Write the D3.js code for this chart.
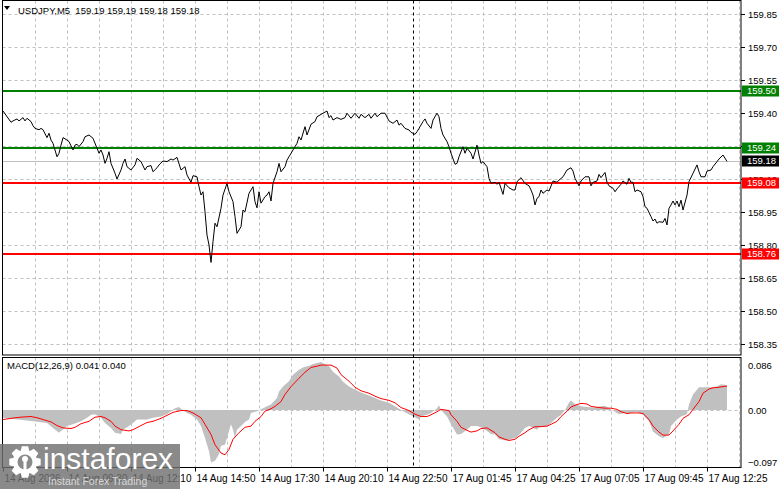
<!DOCTYPE html>
<html>
<head>
<meta charset="utf-8">
<script src="https://cdn.jsdelivr.net/npm/d3@7"></script>
<style>
  body { margin: 0; background: #fff; }
  svg { display: block; font-family: "Liberation Sans", Arial, sans-serif; }
</style>
</head>
<body>
<svg id="chart" width="781" height="489"></svg>
<script>
// ---- data ----
const symbolTitle = "USDJPY,M5  159.19 159.19 159.18 159.18";
const macdTitle = "MACD(12,26,9) 0.041 0.040";

const timeLabels = ["14 Aug 2026", "14 Aug 09:30", "14 Aug 12:10", "14 Aug 14:50", "14 Aug 17:30", "14 Aug 20:10",
  "14 Aug 22:50", "17 Aug 01:45", "17 Aug 04:25", "17 Aug 07:05", "17 Aug 09:45", "17 Aug 12:25"];
const timeTickBars = [0, 32, 64, 96, 128, 160, 192, 224, 256, 288, 320, 352];

const priceTicks = [159.85, 159.70, 159.55, 159.40, 159.25, 159.10, 158.95, 158.80, 158.65, 158.50, 158.35];
const levels = [159.50, 159.24, 159.08, 158.76];
const lastPrice = 159.18;
const separatorBar = 205;
const macdTicks = [0.086, 0.00, -0.097];

// [bar index (M5), close]
const closes = [[0,159.409],[4,159.358],[5,159.364],[7,159.373],[8,159.364],[10,159.379],[11,159.364],[12,159.376],[14,159.361],[15,159.342],[16,159.330],[18,159.324],[19,159.330],[20,159.324],[22,159.288],[23,159.308],[24,159.277],[25,159.262],[27,159.201],[28,159.217],[29,159.254],[30,159.288],[32,159.277],[33,159.270],[35,159.232],[36,159.254],[37,159.258],[38,159.247],[40,159.270],[41,159.292],[43,159.300],[45,159.285],[47,159.240],[48,159.217],[49,159.232],[50,159.209],[51,159.171],[52,159.194],[53,159.224],[54,159.171],[56,159.126],[57,159.100],[59,159.141],[60,159.171],[61,159.191],[62,159.156],[64,159.141],[66,159.164],[67,159.194],[69,159.179],[71,159.141],[72,159.156],[74,159.161],[75,159.133],[77,159.151],[78,159.164],[80,159.182],[82,159.179],[84,159.191],[85,159.186],[87,159.198],[89,159.141],[91,159.156],[92,159.118],[94,159.085],[95,159.115],[97,159.110],[98,159.065],[99,159.027],[100,159.042],[101,158.951],[102,158.845],[103,158.800],[104,158.721],[105,158.815],[106,158.899],[107,158.883],[109,158.967],[110,159.027],[112,159.080],[113,159.042],[115,158.997],[116,158.929],[117,158.853],[119,158.883],[120,158.959],[121,158.951],[123,159.035],[124,159.050],[125,159.065],[126,158.997],[127,158.969],[128,159.042],[129,158.990],[131,159.020],[132,159.027],[133,159.042],[134,159.000],[135,159.080],[137,159.133],[138,159.171],[139,159.133],[141,159.156],[142,159.186],[143,159.201],[145,159.232],[147,159.262],[148,159.292],[149,159.277],[151,159.338],[152,159.300],[154,159.349],[156,159.361],[157,159.383],[160,159.399],[162,159.409],[163,159.379],[164,159.388],[165,159.368],[167,159.379],[169,159.371],[171,159.379],[172,159.399],[174,159.376],[176,159.399],[178,159.376],[179,159.394],[181,159.379],[183,159.394],[184,159.376],[186,159.399],[187,159.383],[189,159.399],[191,159.399],[193,159.364],[195,159.353],[197,159.368],[198,159.345],[199,159.353],[201,159.330],[203,159.323],[204,159.312],[206,159.303],[207,159.315],[208,159.330],[210,159.361],[211,159.373],[212,159.353],[214,159.330],[215,159.368],[217,159.399],[218,159.383],[219,159.330],[220,159.300],[222,159.270],[223,159.247],[224,159.217],[226,159.167],[227,159.171],[228,159.201],[230,159.247],[231,159.217],[232,159.240],[234,159.217],[235,159.191],[237,159.254],[238,159.209],[239,159.171],[240,159.179],[242,159.156],[243,159.103],[244,159.080],[246,159.085],[247,159.076],[248,159.085],[250,159.030],[251,159.080],[253,159.060],[255,159.050],[256,159.050],[257,159.088],[259,159.106],[261,159.080],[263,159.069],[264,159.050],[265,159.027],[266,158.982],[267,159.012],[268,159.020],[269,159.050],[270,159.035],[272,159.050],[273,159.045],[275,159.091],[277,159.085],[278,159.095],[280,159.110],[282,159.141],[284,159.151],[285,159.136],[286,159.103],[288,159.069],[289,159.091],[291,159.110],[293,159.110],[294,159.069],[295,159.085],[297,159.091],[298,159.121],[299,159.106],[301,159.130],[302,159.085],[303,159.069],[305,159.058],[306,159.042],[307,159.055],[309,159.076],[310,159.091],[312,159.076],[313,159.103],[314,159.085],[315,159.085],[316,159.042],[317,159.050],[319,159.042],[320,159.020],[321,158.974],[322,158.967],[324,158.929],[325,158.909],[326,158.918],[327,158.899],[328,158.906],[330,158.903],[331,158.921],[332,158.891],[333,158.967],[334,158.982],[335,159.000],[336,158.982],[337,159.000],[338,158.974],[339,159.004],[340,158.959],[342,159.027],[343,159.088],[345,159.126],[347,159.164],[348,159.133],[349,159.110],[351,159.110],[352,159.136],[354,159.141],[355,159.156],[357,159.179],[358,159.191],[360,159.209],[362,159.180]];

// [bar index, MACD main] (grey histogram)
const macdMain = [[0,-0.013],[15,-0.019],[22,-0.022],[25,-0.030],[28,-0.038],[29,-0.035],[32,-0.027],[35,-0.024],[39,-0.019],[42,-0.013],[44,-0.008],[46,-0.007],[49,-0.013],[51,-0.022],[54,-0.030],[56,-0.038],[59,-0.040],[60,-0.033],[63,-0.027],[65,-0.022],[67,-0.016],[72,-0.016],[75,-0.013],[79,-0.011],[82,-0.007],[84,-0.002],[86,0.003],[88,0.005],[89,0.002],[92,-0.005],[94,-0.008],[97,-0.016],[99,-0.027],[101,-0.047],[103,-0.069],[104,-0.088],[106,-0.085],[108,-0.074],[109,-0.060],[111,-0.058],[113,-0.035],[114,-0.024],[115,-0.033],[116,-0.047],[117,-0.033],[119,-0.027],[121,-0.020],[123,-0.016],[124,-0.005],[127,-0.002],[130,0.003],[132,0.006],[134,0.009],[137,0.020],[138,0.031],[140,0.039],[143,0.048],[145,0.059],[148,0.067],[150,0.071],[153,0.074],[155,0.077],[159,0.080],[160,0.078],[163,0.073],[165,0.064],[168,0.056],[170,0.047],[173,0.039],[176,0.034],[179,0.029],[183,0.024],[186,0.020],[189,0.016],[193,0.012],[196,0.006],[199,0.000],[203,-0.007],[206,-0.012],[208,-0.016],[209,-0.011],[212,-0.008],[214,-0.005],[217,0.003],[218,0.008],[219,0.000],[222,-0.011],[224,-0.024],[227,-0.041],[229,-0.040],[232,-0.033],[234,-0.027],[237,-0.027],[239,-0.029],[242,-0.035],[244,-0.040],[246,-0.041],[248,-0.049],[252,-0.051],[254,-0.049],[257,-0.045],[259,-0.038],[261,-0.030],[263,-0.027],[267,-0.033],[268,-0.029],[272,-0.027],[274,-0.022],[277,-0.013],[279,-0.008],[281,0.000],[283,0.012],[284,0.016],[286,0.010],[289,0.006],[292,0.005],[295,0.004],[299,0.006],[301,0.007],[303,0.003],[306,-0.003],[308,-0.007],[311,-0.005],[313,-0.005],[317,-0.003],[320,-0.008],[323,-0.019],[325,-0.036],[328,-0.044],[330,-0.047],[333,-0.041],[334,-0.027],[337,-0.016],[339,-0.011],[342,-0.007],[343,0.009],[345,0.026],[348,0.038],[350,0.038],[354,0.038],[357,0.039],[359,0.043],[361,0.042],[362,0.041]];

// [bar index, signal] (red line)
const macdSignal = [[0,-0.016],[4,-0.014],[9,-0.012],[14,-0.011],[17,-0.013],[20,-0.016],[24,-0.020],[27,-0.026],[30,-0.030],[34,-0.031],[36,-0.029],[39,-0.023],[43,-0.019],[46,-0.012],[49,-0.011],[51,-0.013],[54,-0.019],[56,-0.027],[59,-0.033],[63,-0.035],[65,-0.033],[69,-0.026],[72,-0.021],[75,-0.019],[79,-0.014],[82,-0.009],[85,-0.004],[89,-0.001],[92,-0.001],[95,-0.005],[99,-0.013],[101,-0.024],[104,-0.041],[106,-0.058],[109,-0.072],[111,-0.075],[113,-0.066],[115,-0.049],[118,-0.038],[121,-0.029],[124,-0.027],[126,-0.019],[129,-0.011],[131,-0.002],[134,0.002],[136,0.006],[139,0.014],[141,0.026],[144,0.039],[148,0.053],[151,0.063],[154,0.071],[158,0.074],[159,0.075],[164,0.075],[167,0.070],[169,0.059],[173,0.048],[176,0.038],[179,0.032],[183,0.028],[186,0.023],[189,0.019],[193,0.016],[196,0.012],[199,0.004],[203,-0.001],[206,-0.007],[209,-0.011],[212,-0.011],[214,-0.008],[217,-0.003],[219,0.001],[223,-0.001],[224,-0.008],[227,-0.019],[229,-0.029],[232,-0.034],[234,-0.037],[237,-0.035],[239,-0.031],[242,-0.030],[244,-0.034],[246,-0.038],[248,-0.045],[251,-0.049],[253,-0.051],[256,-0.049],[258,-0.044],[261,-0.038],[263,-0.033],[266,-0.028],[268,-0.028],[272,-0.027],[274,-0.024],[277,-0.019],[279,-0.011],[282,-0.002],[284,0.005],[287,0.009],[289,0.011],[292,0.010],[294,0.006],[298,0.004],[301,0.003],[304,0.003],[307,0.001],[309,-0.003],[312,-0.006],[314,-0.005],[318,-0.005],[320,-0.006],[323,-0.016],[325,-0.027],[328,-0.037],[330,-0.042],[333,-0.042],[335,-0.035],[338,-0.024],[340,-0.014],[343,-0.008],[345,0.001],[348,0.014],[350,0.028],[353,0.035],[355,0.037],[358,0.038],[360,0.039],[362,0.040]];

// ---- layout ----
const left = 2.5, right = 741;
const priceTop = 0.5, priceBottom = 355;
const macdTop = 357.5, macdBottom = 467.5;

const svg = d3.select("#chart");

const x = d3.scaleLinear().domain([0, 369]).range([3, 741]);      // 2 px per bar
const yP = d3.scaleLinear().domain([158.30, 159.9136]).range([355, 0]);
const yM = d3.scaleLinear().domain([-0.097, 0.086]).range([468, 358.5]);

const gridColor = "#c0c0c0";

// vertical grid (every 16 bars)
const gridBars = d3.range(16, 369, 16);
svg.append("g").selectAll("line").data(gridBars).enter().append("line")
  .attr("x1", d => Math.round(x(d)) + 0.5).attr("x2", d => Math.round(x(d)) + 0.5)
  .attr("y1", priceTop).attr("y2", priceBottom)
  .attr("stroke", gridColor).attr("stroke-dasharray", "3,3");
svg.append("g").selectAll("line").data(gridBars).enter().append("line")
  .attr("x1", d => Math.round(x(d)) + 0.5).attr("x2", d => Math.round(x(d)) + 0.5)
  .attr("y1", macdTop).attr("y2", macdBottom)
  .attr("stroke", gridColor).attr("stroke-dasharray", "3,3");

// horizontal grid
svg.append("g").selectAll("line").data(priceTicks).enter().append("line")
  .attr("x1", left).attr("x2", right)
  .attr("y1", d => Math.round(yP(d)) + 0.5).attr("y2", d => Math.round(yP(d)) + 0.5)
  .attr("stroke", gridColor).attr("stroke-dasharray", "3,3");

// current bid line
svg.append("line")
  .attr("x1", left).attr("x2", right)
  .attr("y1", Math.round(yP(lastPrice)) + 0.5).attr("y2", Math.round(yP(lastPrice)) + 0.5)
  .attr("stroke", "#c0c0c0");

// level lines
const levelColor = v => v > lastPrice ? "#008000" : "#ff0000";
svg.append("g").selectAll("line").data(levels).enter().append("line")
  .attr("x1", left).attr("x2", right)
  .attr("y1", d => Math.round(yP(d))).attr("y2", d => Math.round(yP(d)))
  .attr("stroke", levelColor).attr("stroke-width", 2);

// price line
svg.append("path").datum(closes)
  .attr("fill", "none").attr("stroke", "#000").attr("stroke-width", 1)
  .attr("d", d3.line().x(d => x(d[0])).y(d => yP(d[1])));

// MACD zero line
svg.append("line")
  .attr("x1", left).attr("x2", right)
  .attr("y1", Math.round(yM(0)) + 0.5).attr("y2", Math.round(yM(0)) + 0.5)
  .attr("stroke", gridColor).attr("stroke-dasharray", "3,3");

// MACD histogram
svg.append("path").datum(macdMain)
  .attr("fill", "#c0c0c0")
  .attr("d", d3.area().x(d => x(d[0])).y0(yM(0)).y1(d => yM(d[1])));

// signal line
svg.append("path").datum(macdSignal)
  .attr("fill", "none").attr("stroke", "#ff0000").attr("stroke-width", 1)
  .attr("d", d3.line().x(d => x(d[0])).y(d => yM(d[1])));

// separator
svg.append("line")
  .attr("x1", Math.round(x(separatorBar)) + 0.5).attr("x2", Math.round(x(separatorBar)) + 0.5)
  .attr("y1", priceTop).attr("y2", macdBottom)
  .attr("stroke", "#000").attr("stroke-dasharray", "3,3");

// panel frames
svg.append("rect").attr("x", left).attr("y", priceTop)
  .attr("width", right - left).attr("height", priceBottom - priceTop)
  .attr("fill", "none").attr("stroke", "#000");
svg.append("rect").attr("x", left).attr("y", macdTop)
  .attr("width", right - left).attr("height", macdBottom - macdTop)
  .attr("fill", "none").attr("stroke", "#000");

// price axis (labels sitting right under a level box are hidden, as in the terminal)
const boxValues = levels.concat([lastPrice]);
const coveredTick = d => boxValues.some(v => Math.abs(yP(v) - yP(d)) < 3);
const pAxis = svg.append("g").attr("transform", `translate(${right},0)`)
  .call(d3.axisRight(yP).tickValues(priceTicks).tickSize(4).tickPadding(3)
    .tickFormat(d => coveredTick(d) ? "" : d3.format(".2f")(d)));
pAxis.select(".domain").remove();
pAxis.selectAll("text").attr("font-family", "Liberation Sans, Arial, sans-serif").attr("font-size", 9.5).attr("fill", "#000");

// MACD axis
const mAxis = svg.append("g").attr("transform", `translate(${right},0)`)
  .call(d3.axisRight(yM).tickValues(macdTicks).tickSize(0).tickPadding(7)
    .tickFormat(d => d === 0 ? "0.00" : d3.format(".3f")(d)));
mAxis.select(".domain").remove();
mAxis.selectAll("text").attr("font-family", "Liberation Sans, Arial, sans-serif").attr("font-size", 9.5).attr("fill", "#000")
  .attr("dy", d => d > 0 ? "1.05em" : d < 0 ? "-0.3em" : "0.32em");

// time axis
const tAxis = svg.append("g").attr("transform", `translate(0,${macdBottom})`)
  .call(d3.axisBottom(x).tickValues(timeTickBars).tickSize(4).tickPadding(3)
    .tickFormat((d, i) => timeLabels[i]));
tAxis.select(".domain").remove();
tAxis.selectAll("text").attr("font-family", "Liberation Sans, Arial, sans-serif").attr("font-size", 10)
  .attr("fill", "#000").attr("text-anchor", "start").attr("x", 1);

// price label boxes
const boxes = levels.map(v => ({ v, c: levelColor(v) })).concat([{ v: lastPrice, c: "#000" }]);
const bg = svg.append("g").selectAll("g").data(boxes).enter().append("g")
  .attr("transform", d => `translate(${right + 1},${Math.round(yP(d.v))})`);
bg.append("rect").attr("x", 0).attr("y", -5.5).attr("width", 37).attr("height", 11).attr("fill", d => d.c);
bg.append("text").attr("x", 5).attr("y", 0).attr("dy", "0.35em")
  .attr("font-size", 9.5).attr("fill", "#fff").text(d => d.v.toFixed(2));

// titles
svg.append("path").attr("d", "M4,6 L10,6 L7,10 Z").attr("fill", "#000");
svg.append("text").attr("x", 18).attr("y", 14).attr("font-size", 9.5).attr("fill", "#000")
  .style("white-space", "pre").text(symbolTitle);
svg.append("text").attr("x", 7).attr("y", 369).attr("font-size", 9.5).attr("fill", "#000")
  .text(macdTitle);

// watermark
const wm = svg.append("g");
wm.append("rect").attr("x", 0).attr("y", 444).attr("width", 180).attr("height", 45)
  .attr("fill", "rgba(112,112,112,0.82)");
const gearPts = [];
for (let i = 0; i < 8; i++) {
  const a = i * Math.PI / 4;
  gearPts.push([a - 0.36, 12], [a - 0.2, 16], [a + 0.2, 16], [a + 0.36, 12]);
}
wm.append("path").attr("transform", "translate(25,462)")
  .attr("d", d3.lineRadial().angle(d => d[0]).radius(d => d[1]).curve(d3.curveLinearClosed)(gearPts))
  .attr("fill", "#fff");
wm.append("circle").attr("cx", 25).attr("cy", 462).attr("r", 7.5).attr("fill", "#8a8a8a");
wm.append("circle").attr("cx", 25).attr("cy", 459).attr("r", 3).attr("fill", "#fff");
wm.append("rect").attr("x", 23.5).attr("y", 460).attr("width", 3).attr("height", 10).attr("fill", "#fff");
wm.append("text").attr("x", 43).attr("y", 469).attr("font-size", 30).attr("fill", "#fff")
  .attr("font-family", "Liberation Sans, Arial, sans-serif").text("instaforex");
wm.append("text").attr("x", 48).attr("y", 485).attr("font-size", 10.5).attr("fill", "#d8d8d8")
  .text("Instant Forex Trading");
</script>
</body>
</html>
